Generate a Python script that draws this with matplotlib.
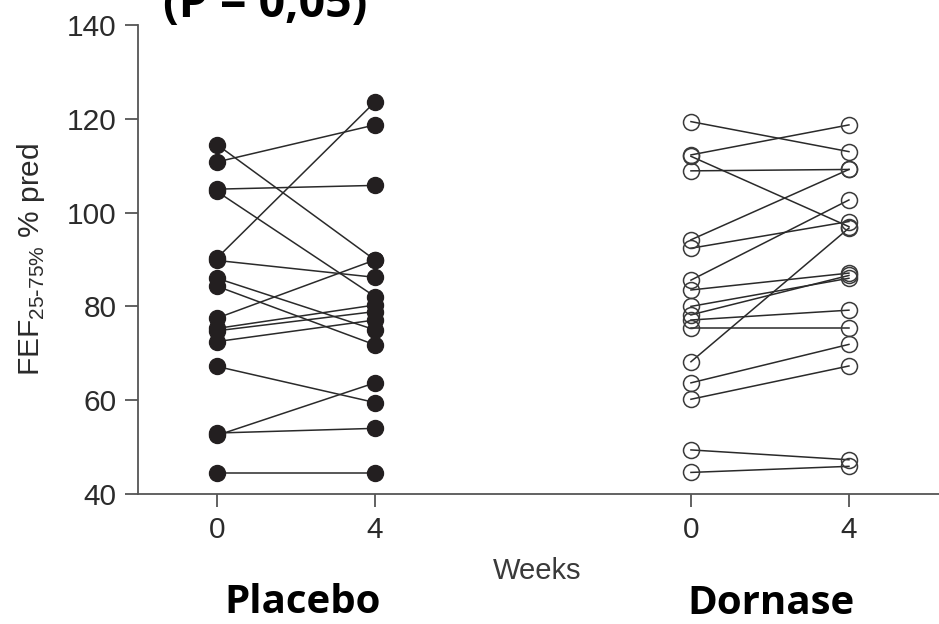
import matplotlib as mpl
mpl.use('Agg')
import matplotlib.pyplot as plt

# FEF25-75% % pred, paired readings per patient (week 0 -> week 4)
placebo_wk0 = [114.5, 110.8, 105.0, 104.5, 90.3, 89.8, 86.0, 84.3, 77.5, 75.3, 74.8, 72.5, 67.2, 52.5, 53.0, 44.4]
placebo_wk4 = [89.9, 118.7, 105.8, 82.1, 123.6, 86.2, 75.0, 71.8, 89.9, 80.3, 78.9, 77.1, 59.5, 63.7, 54.0, 44.4]

dornase_wk0 = [119.4, 112.3, 112.0, 108.9, 94.2, 92.4, 85.6, 83.5, 80.0, 78.2, 77.1, 75.5, 68.2, 63.7, 60.2, 49.4, 44.6]
dornase_wk4 = [113.0, 118.7, 97.0, 109.2, 109.2, 98.1, 102.7, 87.1, 86.0, 86.6, 79.2, 75.5, 96.7, 71.9, 67.3, 47.3, 45.9]

placebo_x = [0, 4]
dornase_x = [12, 16]
tick_pos = [0, 4, 12, 16]
tick_labels = ['0', '4', '0', '4']

plt.rcParams['font.family'] = ['Liberation Sans', 'DejaVu Sans']
BOLD = ['Open Sans', 'DejaVu Sans']

fig = plt.figure(figsize=(9.39, 6.24), dpi=100)
W, H = 939.0, 624.0
ax = fig.add_axes([138 / W, (H - 494) / H, (W - 138) / W, (494 - 25) / H])

for a, b in zip(placebo_wk0, placebo_wk4):
    ax.plot(placebo_x, [a, b], color='#2a2a2a', lw=1.1, zorder=2)
ax.plot([placebo_x[0]] * len(placebo_wk0), placebo_wk0, 'o', ms=11.5, mfc='#231f20', mec='#231f20', zorder=3)
ax.plot([placebo_x[1]] * len(placebo_wk4), placebo_wk4, 'o', ms=11.5, mfc='#231f20', mec='#231f20', zorder=3)

for a, b in zip(dornase_wk0, dornase_wk4):
    ax.plot(dornase_x, [a, b], color='#2a2a2a', lw=1.1, zorder=2)
ax.plot([dornase_x[0]] * len(dornase_wk0), dornase_wk0, 'o', ms=11.5, mfc='none', mec='#3a3a3a', mew=1.1, zorder=3)
ax.plot([dornase_x[1]] * len(dornase_wk4), dornase_wk4, 'o', ms=11.5, mfc='none', mec='#3a3a3a', mew=1.1, zorder=3)

ax.set_xlim(-2.0, 18.28)
ax.set_ylim(40, 140)
ax.set_yticks([40, 60, 80, 100, 120, 140])
ax.set_xticks(tick_pos)
ax.set_xticklabels(tick_labels)

for s in ['top', 'right']:
    ax.spines[s].set_visible(False)
for s in ['left', 'bottom']:
    ax.spines[s].set_color('#555555')
    ax.spines[s].set_linewidth(1.3)
ax.tick_params(direction='out', length=9.5, width=1.3, color='#555555',
               labelsize=21.5, labelcolor='#2b2b2b', pad=6)

ax.set_ylabel(r'FEF$_{\mathregular{25\text{-}75\%}}$ % pred', fontsize=21.5, color='#2b2b2b')
ax.yaxis.set_label_coords(-0.113, 0.5)

fig.text(537 / W, 1 - 571 / H, 'Weeks', fontsize=21, color='#3a3a3a', ha='center', va='center')
fig.text(303 / W, 1 - 613 / H, 'Placebo', fontsize=29, fontweight='bold', family=BOLD,
         ha='center', va='baseline')
fig.text(771 / W, 1 - 614 / H, 'Dornase', fontsize=29, fontweight='bold', family=BOLD,
         ha='center', va='baseline')
fig.text(163 / W, 1 - 17 / H, '(P = 0,05)', fontsize=33.5, fontweight='bold', family=BOLD,
         ha='left', va='baseline')

fig.savefig('out.png', dpi=100)
